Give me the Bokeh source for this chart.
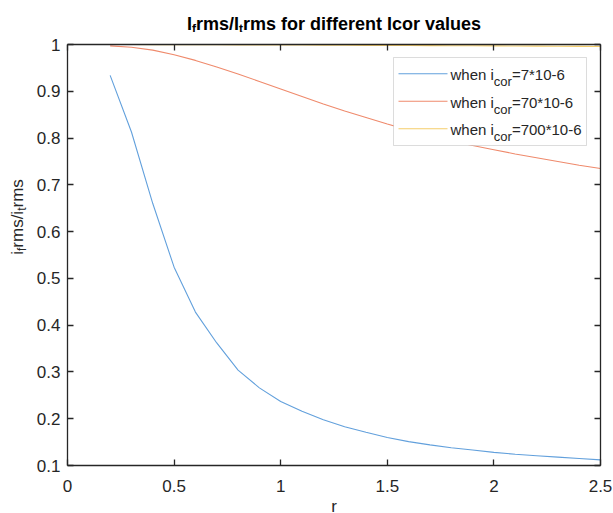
import math
from bokeh.plotting import figure
from bokeh.layouts import column, row
from bokeh.models import Range1d, LinearAxis, FixedTicker, Label, BoxAnnotation, Arrow
from bokeh.embed import file_html
from bokeh.resources import INLINE

# ---------------- data ----------------
r = [0.2, 0.3, 0.4, 0.5, 0.6, 0.7, 0.8, 0.9, 1.0, 1.1, 1.2, 1.3,
     1.4, 1.5, 1.6, 1.7, 1.8, 1.9, 2.0, 2.1, 2.2, 2.3, 2.4, 2.5]
ratio_icor_7 = [0.934, 0.813, 0.660, 0.524, 0.428, 0.362, 0.304, 0.266,
                0.237, 0.216, 0.198, 0.183, 0.171, 0.160, 0.151, 0.144,
                0.138, 0.133, 0.128, 0.124, 0.121, 0.118, 0.115, 0.112]
ratio_icor_70 = [0.997, 0.994, 0.988, 0.978, 0.966, 0.952, 0.937, 0.921,
                 0.905, 0.889, 0.873, 0.858, 0.844, 0.830, 0.817, 0.805,
                 0.794, 0.784, 0.775, 0.766, 0.758, 0.750, 0.742, 0.735]
ratio_icor_700 = [0.9999, 0.9999, 0.9998, 0.9997, 0.9996, 0.9994, 0.9993, 0.9991,
                  0.9990, 0.9988, 0.9986, 0.9984, 0.9982, 0.9980, 0.9978, 0.9976,
                  0.9974, 0.9972, 0.9970, 0.9968, 0.9965, 0.9962, 0.9960, 0.9957]
series_values = ["=7*10-6", "=70*10-6", "=700*10-6"]
x_ticks = [0, 0.5, 1, 1.5, 2, 2.5]
x_tick_labels = ["0", "0.5", "1", "1.5", "2", "2.5"]
y_ticks = [0.1, 0.2, 0.3, 0.4, 0.5, 0.6, 0.7, 0.8, 0.9, 1.0]
y_tick_labels = ["0.1", "0.2", "0.3", "0.4", "0.5", "0.6", "0.7", "0.8", "0.9", "1"]

# ---------------- styling ----------------
FONT = "Liberation Sans"
AX = "#262626"
COLORS = ["#62a0dc", "#ef8a6c", "#f4cd6a"]

W, H = 613, 513
TITLE_H = 32        # strip for the title
YLAB_W = 30         # strip for the y axis label
R_H = 13            # strip for the x axis label
BL, BT, BR, BB = 37, 12, 13, 35
FW, FH = 533, 421


def blank(width, height):
    f = figure(width=width, height=height, x_range=Range1d(0, 1), y_range=Range1d(0, 1),
               output_backend="svg", toolbar_location=None, min_border=0,
               x_axis_type=None, y_axis_type=None,
               background_fill_color="white", border_fill_color="white")
    f.outline_line_color = None
    f.xgrid.visible = False
    f.ygrid.visible = False
    return f


p = figure(frame_width=FW, frame_height=FH,
           x_range=Range1d(0, 2.5), y_range=Range1d(0.1, 1.0),
           output_backend="svg", toolbar_location=None,
           min_border_left=BL, min_border_top=BT,
           min_border_right=BR, min_border_bottom=BB,
           background_fill_color="white", border_fill_color="white")
p.outline_line_color = None
p.xgrid.visible = False
p.ygrid.visible = False


def style_axis(ax, ticks, labels, show_labels, standoff):
    ax.ticker = FixedTicker(ticks=ticks)
    ax.major_label_overrides = {t: (l if show_labels else "") for t, l in zip(ticks, labels)}
    ax.minor_tick_line_color = None
    ax.major_tick_in = 6
    ax.major_tick_out = 0
    ax.axis_line_color = AX
    ax.axis_line_width = 1.3
    ax.major_tick_line_color = AX
    ax.major_tick_line_width = 1.3
    ax.major_label_text_font = FONT
    ax.major_label_text_color = AX
    ax.major_label_text_font_size = "17px" if show_labels else "1px"
    ax.major_label_standoff = standoff


style_axis(p.xaxis[0], x_ticks, x_tick_labels, True, 14)
style_axis(p.yaxis[0], y_ticks, y_tick_labels, True, 7)
top_ax = LinearAxis()
right_ax = LinearAxis()
style_axis(top_ax, x_ticks, x_tick_labels, False, 0)
style_axis(right_ax, y_ticks, y_tick_labels, False, 0)
p.add_layout(top_ax, "above")
p.add_layout(right_ax, "right")

series = [ratio_icor_7, ratio_icor_70, ratio_icor_700]
for vals, col in zip(series, COLORS):
    p.line(r, vals, line_color=col, line_width=1.1)

# ---------------- rich text helpers (Arial-metric widths) ----------------
REG = {" ": 278, "*": 389, "-": 333, "/": 278, "=": 584, "c": 500, "e": 556,
       "f": 278, "h": 556, "i": 222, "m": 833, "n": 556, "o": 556, "r": 333,
       "s": 500, "t": 278, "w": 722}
BOLD = {" ": 278, "/": 278, "I": 278, "a": 556, "c": 556, "d": 611, "e": 556,
        "f": 333, "i": 278, "l": 278, "m": 889, "n": 611, "o": 611, "r": 389,
        "s": 556, "t": 333, "u": 611, "v": 556}


def text_width(s, size, bold):
    table = BOLD if bold else REG
    return sum(table.get(ch, 556) for ch in s) * size / 1000.0


def rich(fig, pieces, x0, y0, size, sub_size, sub_drop, bold=False,
         vertical=False, align="left"):
    """Screen units relative to fig's frame, y upward."""
    total = sum(text_width(t, sub_size if sub else size, bold) for t, sub in pieces)
    pos = 0.0
    for t, sub in pieces:
        fs = sub_size if sub else size
        drop = sub_drop if sub else 0
        if not vertical:
            start = x0 - total / 2 if align == "center" else x0
            lx, ly, ang = start + pos, y0 - drop, 0.0
        else:
            start = y0 - total / 2 if align == "center" else y0
            lx, ly, ang = x0 + drop, start + pos, math.pi / 2
        fig.add_layout(Label(x=lx, y=ly, x_units="screen", y_units="screen", text=t,
                             text_font=FONT, text_font_size=f"{fs}px",
                             text_font_style="bold" if bold else "normal",
                             text_color="black" if bold else AX,
                             text_align="left", text_baseline="alphabetic", angle=ang))
        pos += text_width(t, fs, bold)


# title strip
title_fig = blank(W, TITLE_H)
rich(title_fig, [("I", False), ("f", True), ("rms/I", False), ("t", True),
                 ("rms for different Icor values", False)],
     YLAB_W + BL + FW / 2, TITLE_H - 23, 18, 12, 5, bold=True, align="center")

# y label strip
ylab_fig = blank(YLAB_W, BT + FH + BB)
rich(ylab_fig, [("i", False), ("f", True), ("rms/i", False), ("t", True), ("rms", False)],
     17, BB + FH / 2 + 3, 17, 12, 4, vertical=True, align="center")

# x label strip
r_fig = blank(W, R_H)
r_fig.add_layout(Label(x=YLAB_W + BL + FW / 2, y=7, x_units="screen", y_units="screen",
                       text="r", text_font=FONT, text_font_size="17px", text_color=AX,
                       text_align="center", text_baseline="alphabetic"))

# ---------------- legend (custom, for the subscripts) ----------------
LEFT, RIGHT, TOP, BOTTOM = 326, 519, 408, 320
p.add_layout(BoxAnnotation(left=LEFT, right=RIGHT, top=TOP, bottom=BOTTOM,
                           left_units="screen", right_units="screen",
                           top_units="screen", bottom_units="screen",
                           fill_color="white", fill_alpha=1.0,
                           line_color="#8a8a8a", line_width=1))
row_y = [391.7, 364.3, 336.7]
for yy, col, sv in zip(row_y, COLORS, series_values):
    p.add_layout(Arrow(end=None, x_start=331, y_start=yy, x_end=380, y_end=yy,
                       start_units="screen", end_units="screen",
                       line_color=col, line_width=1.1))
    rich(p, [("when i", False), ("cor", True), (sv, False)],
         383, yy - 1, 15, 13, 7)

layout = column(title_fig, row(ylab_fig, p), r_fig)
open("out.html", "w").write(file_html(layout, INLINE))
